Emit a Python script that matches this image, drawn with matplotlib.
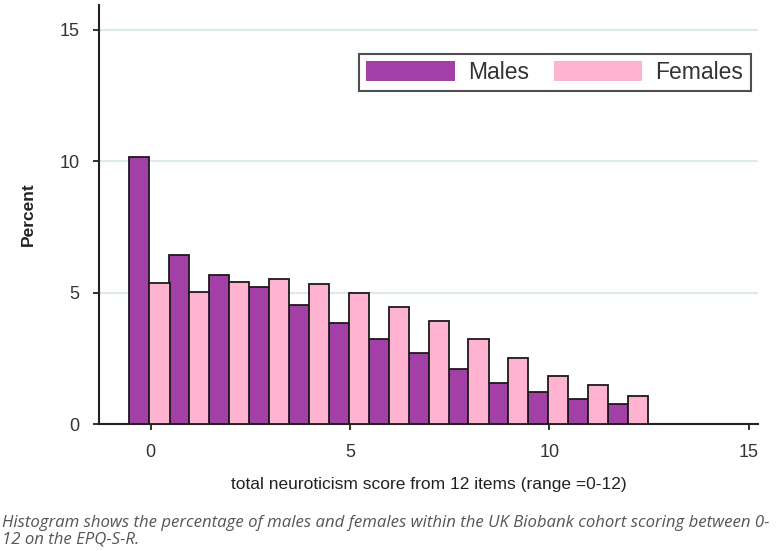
import matplotlib
matplotlib.use("Agg")
import matplotlib.pyplot as plt
import numpy as np

scores = list(range(13))
males = [10.16, 6.44, 5.68, 5.21, 4.54, 3.87, 3.25, 2.72, 2.12, 1.56, 1.22, 0.96, 0.77]
females = [5.36, 5.02, 5.42, 5.54, 5.35, 5.0, 4.46, 3.93, 3.26, 2.51, 1.84, 1.49, 1.09]
xticks = [0, 5, 10, 15]
yticks = [0, 5, 10, 15]

plt.rcParams['font.family'] = ['Liberation Sans', 'DejaVu Sans']

fig = plt.figure(figsize=(7.79, 5.51), dpi=100)
ax = fig.add_axes([0.127, 0.23, 0.846, 0.761])

x = np.array(scores)
w = 0.505
ax.bar(x - 0.285, males, width=w, color='#A340A8', edgecolor='#1a1a1a', linewidth=1.3, label='Males', zorder=3)
ax.bar(x + 0.22, females, width=w, color='#FFB3D0', edgecolor='#1a1a1a', linewidth=1.3, label='Females', zorder=3)

ax.set_xlim(-1.3, 15.23)
ax.set_ylim(0, 15.95)
ax.set_xticks(xticks)
ax.set_yticks(yticks)
ax.yaxis.grid(True, color='#DCEAEE', linewidth=1.5, zorder=0)
ax.set_axisbelow(True)
for s in ['top', 'right']:
    ax.spines[s].set_visible(False)
for s in ['left', 'bottom']:
    ax.spines[s].set_linewidth(1.5)
    ax.spines[s].set_color('#222222')
ax.tick_params(axis='both', direction='out', length=4.5, width=1.3, labelsize=13, colors='#222222')
ax.tick_params(axis='both', labelcolor='#333333')
ax.tick_params(axis='y', pad=9.5)
ax.tick_params(axis='x', pad=10)

ax.set_ylabel('Percent', fontsize=12.5, fontweight='bold', color='#222222', labelpad=17)
ax.set_xlabel('total neuroticism score from 12 items (range =0-12)', fontsize=12.5, color='#222222', labelpad=11)

leg = ax.legend(loc='upper right', bbox_to_anchor=(0.989, 0.884), ncol=2, fontsize=16.5,
                handlelength=3.85, handleheight=0.95, handletextpad=0.6, columnspacing=1.05,
                frameon=True, fancybox=False, borderpad=0.32, borderaxespad=0)
leg.get_frame().set_edgecolor('#222222')
leg.get_frame().set_linewidth(1.5)
for t in leg.get_texts():
    t.set_color('#333333')
for h in leg.legend_handles:
    h.set_edgecolor('none')

fig.text(0.003, 0.006, 'Histogram shows the percentage of males and females within the UK Biobank cohort scoring between 0-\n12 on the EPQ-S-R.',
         fontsize=12.1, style='italic', color='#555555', ha='left', va='bottom', family=['Open Sans', 'DejaVu Sans'],
         linespacing=1.05)

fig.savefig('out.png', dpi=100)
